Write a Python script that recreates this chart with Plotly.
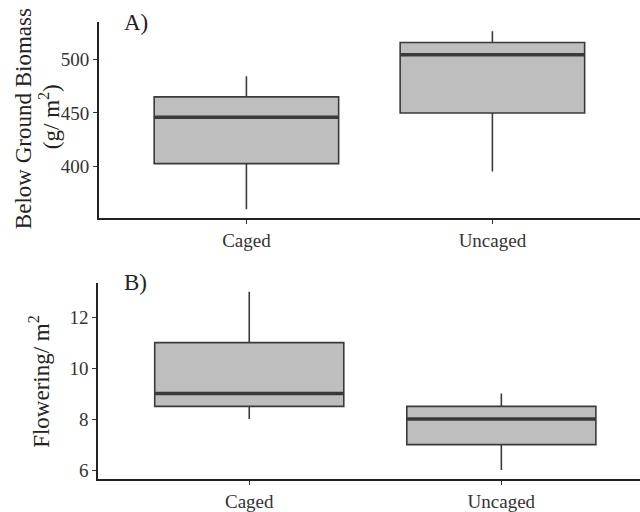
import plotly.graph_objects as go
from plotly.subplots import make_subplots

categories = ["Caged", "Uncaged"]

# Panel A: Below ground biomass (g/m2)
a_lower = [360.5, 395.7]
a_q1 = [403, 450]
a_median = [446, 504]
a_q3 = [465, 515.4]
a_upper = [484, 526]

# Panel B: Flowering / m2
b_lower = [8, 6]
b_q1 = [8.5, 7]
b_median = [9, 8]
b_q3 = [11, 8.5]
b_upper = [13, 9]

a_ticks = [400, 450, 500]
b_ticks = [6, 8, 10, 12]

FILL = "#bebebe"
LINE = "#3a3a3a"
FONT = "Liberation Serif"
BOXW = 0.75

fig = make_subplots(rows=2, cols=1, vertical_spacing=0.14)

for row, (lo, q1, me, q3, up) in enumerate(
    [(a_lower, a_q1, a_median, a_q3, a_upper),
     (b_lower, b_q1, b_median, b_q3, b_upper)], start=1):
    fig.add_trace(go.Box(
        x=categories, lowerfence=lo, q1=q1, median=me, q3=q3, upperfence=up,
        fillcolor=FILL, line=dict(color=LINE, width=1.6), whiskerwidth=0,
        width=BOXW, boxpoints=False, showlegend=False, hoverinfo="skip"),
        row=row, col=1)
    # thicker median lines
    xref = "x" if row == 1 else "x2"
    yref = "y" if row == 1 else "y2"
    for i, m in enumerate(me):
        fig.add_shape(type="line", xref=xref, yref=yref,
                      x0=i - BOXW / 2, x1=i + BOXW / 2, y0=m, y1=m,
                      line=dict(color=LINE, width=3.5), layer="above")

axis_common = dict(showline=True, linecolor="#222222", linewidth=1.5,
                   ticks="outside", ticklen=4, tickcolor="#333333", tickwidth=1,
                   showgrid=False, zeroline=False,
                   tickfont=dict(family=FONT, size=19, color="#333333"))

fig.update_xaxes(**axis_common)
fig.update_yaxes(**axis_common)

fig.update_xaxes(range=[-0.6, 1.6], row=1, col=1)
fig.update_xaxes(range=[-0.6, 1.55], row=2, col=1)
fig.update_yaxes(range=[352.2, 534.5], tickvals=a_ticks, row=1, col=1)
fig.update_yaxes(range=[5.65, 13.35], tickvals=b_ticks, row=2, col=1)

fig.update_layout(
    width=640, height=512,
    margin=dict(l=98, r=0, t=22, b=29),
    plot_bgcolor="white", paper_bgcolor="white",
    font=dict(family=FONT, size=18, color="#222222"),
    xaxis=dict(domain=[0.0015, 1]),
    yaxis=dict(domain=[0.5705, 1]),
    yaxis2=dict(domain=[0, 0.4295]),
    xaxis2=dict(domain=[0, 1]),
)

TITLE_FONT = dict(family=FONT, size=23, color="#222222")

fig.add_annotation(text="A)", xref="paper", yref="paper", x=0.045, y=1.0,
                   xanchor="left", yanchor="middle", showarrow=False,
                   font=TITLE_FONT)
fig.add_annotation(text="B)", xref="paper", yref="paper", x=0.045, y=0.4295,
                   xanchor="left", yanchor="middle", showarrow=False,
                   font=TITLE_FONT)

fig.add_annotation(text="Below Ground Biomass",
                   xref="paper", yref="paper", x=-0.1384, y=0.7896,
                   xanchor="center", yanchor="middle", textangle=-90,
                   showarrow=False, font=TITLE_FONT)
fig.add_annotation(text="(g/ m<sup>2</sup>)",
                   xref="paper", yref="paper", x=-0.0904, y=0.7918,
                   xanchor="center", yanchor="middle", textangle=-90,
                   showarrow=False, font=TITLE_FONT)
fig.add_annotation(text="Flowering/ m<sup>2</sup>",
                   xref="paper", yref="paper", x=-0.107, y=0.2126,
                   xanchor="center", yanchor="middle", textangle=-90,
                   showarrow=False, font=TITLE_FONT)

fig.write_html("out.html")
